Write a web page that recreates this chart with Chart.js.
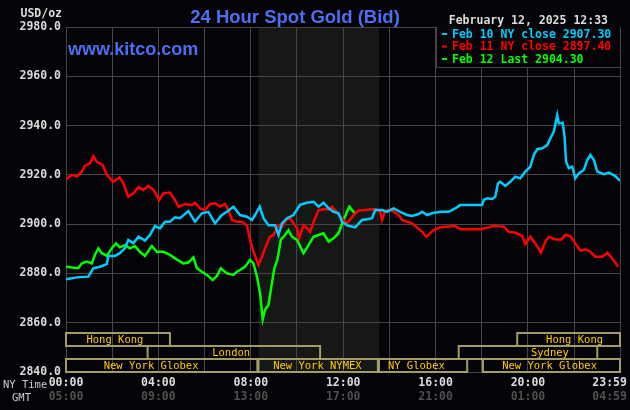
<!DOCTYPE html>
<html>
<head>
<meta charset="utf-8">
<script src="https://cdn.jsdelivr.net/npm/chart.js@4.4.1/dist/chart.umd.min.js"></script>
<style>
  html, body { margin: 0; padding: 0; background: #040307; }
  canvas { display: block; }
</style>
</head>
<body>
<canvas id="chart" width="630" height="410"></canvas>
<script>
// minutes after midnight (NY time) and bid prices
const feb10Times = [0, 28, 58, 71, 88, 106, 110, 127, 140, 153, 162, 175, 188, 205, 218, 231, 244, 257, 270, 283, 296, 318, 335, 353, 370, 387, 405, 418, 435, 452, 470, 483, 491, 503, 513, 526, 543, 552, 561, 574, 591, 608, 626, 643, 656, 669, 682, 695, 708, 717, 730, 751, 769, 782, 795, 803, 821, 834, 851, 868, 886, 899, 916, 925, 938, 951, 972, 994, 1011, 1024, 1081, 1085, 1094, 1107, 1115, 1122, 1128, 1141, 1154, 1167, 1180, 1193, 1206, 1215, 1224, 1237, 1250, 1258, 1267, 1276, 1280, 1290, 1295, 1299, 1306, 1315, 1323, 1332, 1345, 1354, 1362, 1371, 1380, 1397, 1410, 1427, 1439];
const feb10Prices = [2877.6, 2878.4, 2878.7, 2882.1, 2882.7, 2883.8, 2887.1, 2887.1, 2888.2, 2890.2, 2893.6, 2892.2, 2894.9, 2893.3, 2895.6, 2899.2, 2898.3, 2901, 2901, 2902.8, 2902.4, 2905.3, 2901, 2904.4, 2905, 2900.3, 2903.7, 2905, 2907.1, 2903.7, 2903, 2901.7, 2903.7, 2907.1, 2902.4, 2899.6, 2899.6, 2895.6, 2900.3, 2902.4, 2903.7, 2907.8, 2908.7, 2909.1, 2907.1, 2908.7, 2906.4, 2905, 2904.4, 2901, 2899.5, 2898.7, 2901.7, 2902, 2902.4, 2905.7, 2905.7, 2905, 2906.4, 2905, 2903.7, 2903.3, 2904.1, 2905, 2903.7, 2904.4, 2905, 2905, 2906.4, 2907.8, 2907.8, 2909.8, 2910.5, 2910.2, 2911.1, 2916.6, 2917.2, 2915.5, 2917.2, 2919.3, 2918.6, 2921.3, 2923.3, 2928.1, 2930.4, 2930.8, 2932.1, 2934.8, 2937.5, 2944.3, 2940.9, 2941.2, 2935.5, 2925.3, 2922.7, 2923.3, 2918.6, 2920.6, 2922, 2926, 2928.1, 2926, 2921.3, 2920.3, 2920.9, 2919.5, 2917.6];

const feb11Times = [0, 15, 28, 41, 49, 62, 71, 80, 95, 106, 123, 139, 149, 162, 175, 188, 201, 214, 227, 242, 253, 270, 283, 292, 309, 327, 335, 348, 361, 374, 387, 400, 413, 422, 431, 444, 457, 470, 478, 487, 500, 509, 522, 530, 539, 552, 561, 572, 582, 591, 600, 606, 617, 626, 634, 647, 656, 669, 682, 691, 704, 712, 730, 747, 760, 777, 803, 816, 821, 829, 842, 864, 873, 899, 925, 936, 955, 972, 1011, 1024, 1076, 1098, 1107, 1137, 1150, 1167, 1185, 1193, 1206, 1219, 1234, 1245, 1254, 1271, 1287, 1297, 1310, 1323, 1336, 1349, 1362, 1375, 1393, 1406, 1419, 1434];
const feb11Prices = [2918.2, 2920, 2919.3, 2921.3, 2923.6, 2924.7, 2927.6, 2925.3, 2924, 2920, 2917.2, 2919, 2916.6, 2911.1, 2912.5, 2915, 2913.9, 2915.5, 2913.9, 2909.8, 2912.5, 2912.8, 2909.8, 2907.1, 2908.1, 2907.8, 2908.7, 2906.4, 2905.7, 2908.2, 2908.5, 2907.1, 2908.2, 2905.7, 2901.7, 2901, 2901, 2899.6, 2893.6, 2888.8, 2883.4, 2886.8, 2892.2, 2894.9, 2895.6, 2899.6, 2899, 2901.7, 2902.4, 2900.3, 2898.3, 2894.3, 2899.6, 2898.3, 2896.9, 2902.4, 2905.7, 2906, 2906, 2907.1, 2904.7, 2903, 2900.3, 2903.7, 2905.5, 2905.7, 2906.1, 2905, 2901.7, 2905.3, 2906, 2903.7, 2901.7, 2900.3, 2896.9, 2894.9, 2897.6, 2898.7, 2899.2, 2897.9, 2897.9, 2898.7, 2899.2, 2899, 2896.9, 2896.5, 2895.2, 2891.9, 2894.9, 2892.2, 2888.4, 2892.9, 2894.9, 2893.8, 2893.8, 2895.6, 2895.2, 2892.2, 2889.2, 2889.8, 2888.8, 2886.8, 2886.8, 2888.4, 2886.1, 2882.7];

const feb12Times = [0, 32, 41, 54, 67, 75, 84, 93, 106, 119, 130, 140, 153, 166, 179, 192, 205, 223, 236, 253, 270, 283, 305, 318, 331, 340, 353, 366, 381, 392, 402, 418, 435, 444, 452, 465, 478, 487, 496, 504, 511, 517, 526, 532, 541, 549, 558, 569, 578, 587, 600, 617, 630, 643, 656, 669, 682, 695, 708, 719, 730, 736, 743, 751];
const feb12Prices = [2882.7, 2882.1, 2884.1, 2884.8, 2884.1, 2887.5, 2890.2, 2888.2, 2887.1, 2890.2, 2892.2, 2890.6, 2891.5, 2890.2, 2891.1, 2888.8, 2887.1, 2891.1, 2888.8, 2888.8, 2887.5, 2886.1, 2884.1, 2884.4, 2886.5, 2882.1, 2880.7, 2879.4, 2877.3, 2879, 2882.1, 2880, 2879.4, 2880.7, 2881.4, 2882.7, 2885.5, 2884.1, 2878.7, 2872, 2861.4, 2865.2, 2867.2, 2873.3, 2882.1, 2885.5, 2893.6, 2895.6, 2897.6, 2894.9, 2893.6, 2888.2, 2891.5, 2894.9, 2895.6, 2896.3, 2892.9, 2894.3, 2896.3, 2901, 2905, 2907.1, 2905.7, 2904.3];

const legendLabels = ["Feb 10 NY close 2907.30", "Feb 11 NY close 2897.40", "Feb 12 Last 2904.30"];
const xTicks = [0, 120, 240, 360, 480, 600, 720, 840, 960, 1080, 1200, 1320, 1439];
const yTicks = [2840, 2860, 2880, 2900, 2920, 2940, 2960, 2980];

// NYMEX floor hours (shaded) and trading sessions: [name, row, start, end, label centre]
const nymexStart = 500, nymexEnd = 814;
const sessions = [
  ["Hong Kong", 0, 0, 270, 127],
  ["Hong Kong", 0, 1172, 1439, 1321],
  ["London", 1, 212, 660, 429],
  ["Sydney", 1, 1020, 1380, 1257],
  ["New York Globex", 2, 0, 497, 221],
  ["New York NYMEX", 2, 500, 810, 653],
  ["NY Globex", 2, 813, 1042, 910],
  ["New York Globex", 2, 1083, 1439, 1256]
];

const colors = ["#00ccff", "#ff0000", "#00ff00"];
const mono = "'DejaVu Sans Mono', monospace";

function toPoints(times, prices) {
  return times.map((t, i) => ({ x: t, y: prices[i] }));
}
function hhmm(m) {
  m = ((m % 1440) + 1440) % 1440;
  const h = Math.floor(m / 60), mm = m % 60;
  return String(h).padStart(2, "0") + ":" + String(mm).padStart(2, "0");
}

const overlay = {
  id: "overlay",
  beforeDraw(chart) {
    const { ctx, chartArea: a, scales: { x } } = chart;
    ctx.save();
    ctx.fillStyle = "#040307";
    ctx.fillRect(0, 0, chart.width, chart.height);
    const s0 = x.getPixelForValue(nymexStart), s1 = x.getPixelForValue(nymexEnd);
    ctx.fillStyle = "#161816";
    ctx.fillRect(s0, a.top, s1 - s0, a.bottom - a.top);
    ctx.restore();
  },
  afterDraw(chart) {
    const { ctx, chartArea: a, scales: { x } } = chart;
    ctx.save();

    // session boxes
    const rowH = 13;
    ctx.textAlign = "center";
    ctx.textBaseline = "middle";
    ctx.font = "10.5px " + mono;
    sessions.forEach(([name, row, start, end, mid]) => {
      const x0 = x.getPixelForValue(start), x1 = x.getPixelForValue(end);
      const y0 = a.bottom - rowH * (3 - row);
      ctx.strokeStyle = "#a39c68";
      ctx.lineWidth = 2;
      ctx.strokeRect(x0, y0, x1 - x0, rowH);
      ctx.fillStyle = "#ffcc00";
      ctx.fillText(name, x.getPixelForValue(mid), y0 + rowH / 2 + 1);
    });

    // legend box
    const lw = 184, lh = 40;
    ctx.fillStyle = "#040307";
    ctx.fillRect(a.right - lw, a.top, lw, lh);
    ctx.strokeStyle = "#464646";
    ctx.lineWidth = 1;
    ctx.beginPath();
    ctx.moveTo(a.right - lw + 0.5, a.top);
    ctx.lineTo(a.right - lw + 0.5, a.top + lh + 0.5);
    ctx.lineTo(a.right, a.top + lh + 0.5);
    ctx.stroke();
    ctx.font = "bold 11.5px " + mono;
    ctx.textAlign = "left";
    legendLabels.forEach((t, i) => {
      const cy = a.top + 7 + i * 12.5;
      ctx.fillStyle = colors[i];
      ctx.fillRect(a.right - 178, cy - 1, 5, 2);
      ctx.fillText(t, a.right - 168, cy + 1);
    });

    // titles
    ctx.textBaseline = "alphabetic";
    ctx.textAlign = "center";
    ctx.fillStyle = "#4c6ff0";
    ctx.font = "bold 18.5px 'Liberation Sans', Arial, sans-serif";
    ctx.fillText("24 Hour Spot Gold (Bid)", 295, 23);
    ctx.textAlign = "left";
    ctx.font = "bold 18px 'Liberation Sans', Arial, sans-serif";
    ctx.fillText("www.kitco.com", 68, 55);

    ctx.fillStyle = "#dcdcdc";
    ctx.font = "bold 11.5px " + mono;
    ctx.textAlign = "right";
    ctx.fillText("February 12, 2025 12:33", 608, 24);
    ctx.fillText("USD/oz", 62, 17);

    ctx.font = "10.5px " + mono;
    ctx.fillStyle = "#cccccc";
    ctx.textBaseline = "middle";
    ctx.textAlign = "left";
    ctx.fillText("NY Time", 3, 385);
    ctx.fillText("GMT", 12, 398);
    ctx.restore();
  }
};

const setTicks = scale => { scale.ticks = xTicks.map(v => ({ value: v })); };

new Chart(document.getElementById("chart").getContext("2d"), {
  type: "line",
  data: {
    datasets: [
      { label: legendLabels[0], data: toPoints(feb10Times, feb10Prices), borderColor: colors[0] },
      { label: legendLabels[1], data: toPoints(feb11Times, feb11Prices), borderColor: colors[1] },
      { label: legendLabels[2], data: toPoints(feb12Times, feb12Prices), borderColor: colors[2] }
    ]
  },
  options: {
    responsive: false,
    animation: false,
    layout: { padding: { top: 27, right: 10, left: 0, bottom: 0 } },
    elements: {
      point: { radius: 0 },
      line: { borderWidth: 2.5, tension: 0 }
    },
    plugins: { legend: { display: false }, tooltip: { enabled: false } },
    scales: {
      x: {
        type: "linear",
        min: 0,
        max: 1439,
        weight: 0,
        afterBuildTicks: setTicks,
        afterFit: s => { s.height = 18; s.paddingLeft = 0; s.paddingRight = 0; },
        grid: { color: "#464646", drawTicks: false },
        border: { color: "#464646" },
        ticks: {
          autoSkip: false,
          maxRotation: 0,
          padding: 4,
          color: "#dcdcdc",
          font: { family: mono, size: 11.5, weight: "bold" },
          callback: v => v === 1439 ? "23:59   " : (v % 240 === 0 ? hhmm(v) : "")
        }
      },
      x2: {
        type: "linear",
        position: "bottom",
        min: 0,
        max: 1439,
        weight: 1,
        afterBuildTicks: setTicks,
        afterFit: s => { s.height = 20; s.paddingLeft = 0; s.paddingRight = 0; },
        grid: { display: false, drawTicks: false },
        border: { display: false },
        ticks: {
          autoSkip: false,
          maxRotation: 0,
          padding: 0,
          color: "#505050",
          font: { family: mono, size: 11.5, weight: "bold" },
          callback: v => v === 1439 ? hhmm(v + 300) + "   " : (v % 240 === 0 ? hhmm(v + 300) : "")
        }
      },
      y: {
        min: 2840,
        max: 2980,
        afterBuildTicks: s => { s.ticks = yTicks.map(v => ({ value: v })); },
        afterFit: s => { s.width = 66; },
        grid: { color: "#464646", drawTicks: false },
        border: { color: "#464646" },
        ticks: {
          padding: 5,
          color: "#dcdcdc",
          font: { family: mono, size: 11.5, weight: "bold" },
          callback: v => v.toFixed(1)
        }
      }
    }
  },
  plugins: [overlay]
});
</script>
</body>
</html>
